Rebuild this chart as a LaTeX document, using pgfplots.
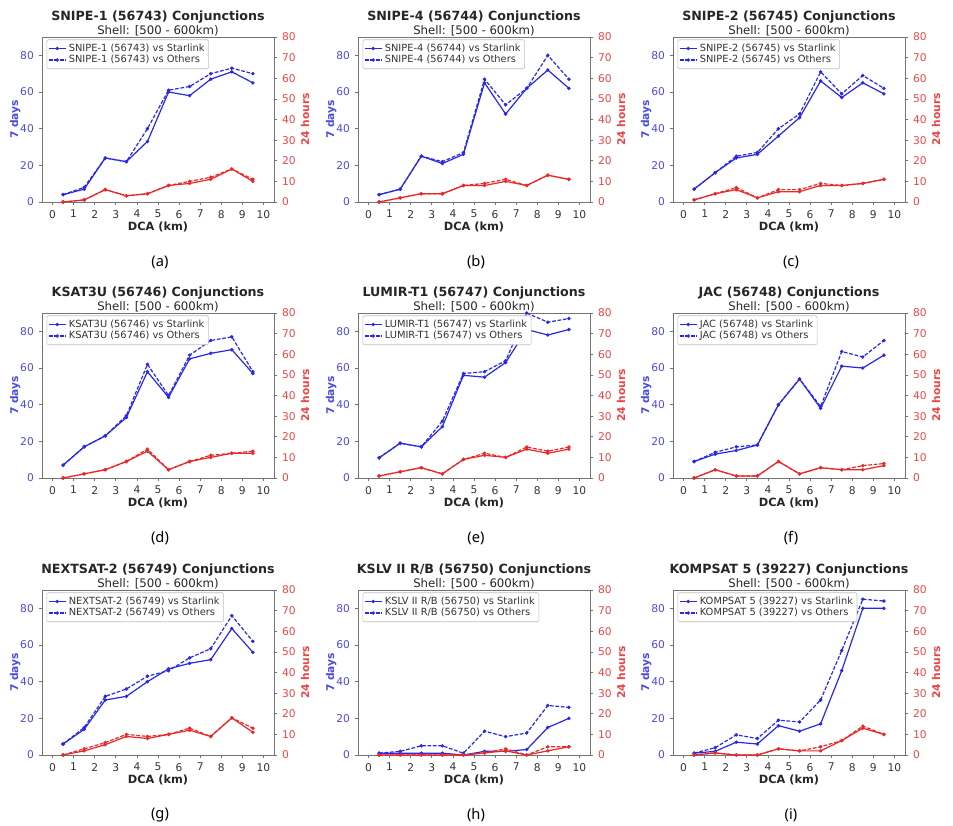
\documentclass[border=0pt]{standalone}
\usepackage{fontspec}
\setmainfont{DejaVu Sans}
\newfontfamily\lblfont{Noto Sans}
\usepackage{pgfplots}
\pgfplotsset{compat=1.18}
\usepackage{pgfplotstable}

\definecolor{lblue}{RGB}{40,40,230}
\definecolor{lred}{RGB}{235,40,40}
\definecolor{tblue}{RGB}{75,75,225}
\definecolor{tred}{RGB}{235,70,70}

\pgfplotstableread{
x s7 o7 s24 o24
0.5 4 4 0 0
1.5 7 8 1 1
2.5 24 24 6 6
3.5 22 22 3 3
4.5 33 40 4 4
5.5 60 61 8 8
6.5 58 63 9 10
7.5 67 70 11 12
8.5 71 73 16 16
9.5 65 70 10 11
}\tA
\pgfplotstableread{
x s7 o7 s24 o24
0.5 4 4 0 0
1.5 7 7 2 2
2.5 25 25 4 4
3.5 21 22 4 4
4.5 26 27 8 8
5.5 65 67 8 9
6.5 48 53 10 11
7.5 62 62 8 8
8.5 72 80 13 13
9.5 62 67 11 11
}\tB
\pgfplotstableread{
x s7 o7 s24 o24
0.5 7 7 1 1
1.5 16 16 4 4
2.5 24 25 6 7
3.5 26 27 2 2
4.5 36 40 5 6
5.5 46 48 5 6
6.5 66 71 8 9
7.5 57 59 8 8
8.5 65 69 9 9
9.5 59 62 11 11
}\tC
\pgfplotstableread{
x s7 o7 s24 o24
0.5 7 7 0 0
1.5 17 17 2 2
2.5 23 23 4 4
3.5 33 34 8 8
4.5 58 62 13 14
5.5 44 45 4 4
6.5 65 67 8 8
7.5 68 75 10 11
8.5 70 77 12 12
9.5 57 58 12 13
}\tD
\pgfplotstableread{
x s7 o7 s24 o24
0.5 11 11 1 1
1.5 19 19 3 3
2.5 17 17 5 5
3.5 28 31 2 2
4.5 56 57 9 9
5.5 55 58 11 12
6.5 63 64 10 10
7.5 81 90 14 15
8.5 78 85 12 13
9.5 81 87 14 15
}\tE
\pgfplotstableread{
x s7 o7 s24 o24
0.5 9 9 0 0
1.5 13 14 4 4
2.5 15 17 1 1
3.5 18 18 1 1
4.5 40 40 8 8
5.5 54 54 2 2
6.5 38 39 5 5
7.5 61 69 4 4
8.5 60 66 4 6
9.5 67 75 6 7
}\tF
\pgfplotstableread{
x s7 o7 s24 o24
0.5 6 6 0 0
1.5 14 15 2 3
2.5 30 32 5 6
3.5 32 36 9 10
4.5 40 43 8 9
5.5 47 46 10 10
6.5 50 53 12 13
7.5 52 58 9 9
8.5 69 76 18 18
9.5 56 62 11 13
}\tG
\pgfplotstableread{
x s7 o7 s24 o24
0.5 1 1 0 0
1.5 1 2 0 0
2.5 1 5 0 0
3.5 1 5 0 0
4.5 0 1 0 0
5.5 2 13 1 1
6.5 2 10 2 3
7.5 3 12 0 0
8.5 15 27 2 4
9.5 20 26 4 4
}\tH
\pgfplotstableread{
x s7 o7 s24 o24
0.5 1 1 0 0
1.5 2 4 1 1
2.5 7 11 0 0
3.5 6 9 0 0
4.5 16 19 3 3
5.5 13 18 2 2
6.5 17 30 2 4
7.5 46 57 7 7
8.5 80 85 13 14
9.5 80 84 10 10
}\tI

\pgfplotsset{
  panelbase/.style={
    scale only axis, width=174pt, height=123.75pt,
    anchor=north west,
    xmin=-0.5, xmax=10.5, xtick={0,...,10},
    axis line style={black!55},
    tick align=outside, major tick length=2.6pt,
    tick style={black!55, line width=0.5pt},
    /pgf/number format/assume math mode=true,
    tick label style={font=\fontsize{8}{9}\selectfont},
  },
  leftaxis/.style={
    panelbase,
    ymin=0, ymax=90, ytick={0,20,...,80},
    ytick pos=left, xtick pos=bottom,
    yticklabel style={text=tblue},
    xticklabel style={text=black!80},
    ylabel={7 days},
    ylabel style={font=\bfseries\fontsize{8}{9}\selectfont, text=tblue, yshift=-7pt},
    xlabel={DCA (km)},
    xlabel style={font=\bfseries\fontsize{8.5}{9}\selectfont, text=black!85, yshift=4pt},
    title style={font=\fontsize{8.8}{10.5}\selectfont, align=center, text=black!85, yshift=-8.5pt},
    legend style={at={(0.02,0.985)}, anchor=north west,
      font=\fontsize{7.4}{8}\selectfont, draw=black!25, rounded corners=1pt,
      fill=white, inner sep=1pt, row sep=-2.5pt, text=black!80},
    legend cell align=left,
    legend image code/.code={\draw[mark repeat=2,mark phase=2,##1] plot coordinates {(0cm,0cm) (0.22cm,0cm) (0.44cm,0cm)};},
  },
  rightaxis/.style={
    panelbase,
    ymin=0, ymax=80, ytick={0,10,...,80},
    axis x line=none, axis y line*=right,
    yticklabel style={text=tred},
    ylabel={24 hours},
    ylabel style={font=\bfseries\fontsize{8}{9}\selectfont, text=tred, yshift=3pt},
  },
  bl/.style={color=lblue, line width=0.9pt, mark=*, mark size=0.8pt, mark options={solid}},
  rl/.style={color=lred, line width=0.9pt, mark=*, mark size=0.8pt, mark options={solid}},
  dsh/.style={dash pattern=on 2.8pt off 1.3pt},
}

\newcommand{\panel}[5]{%
  \begin{axis}[leftaxis, at={({#1*0.75pt},{-#2*0.75pt})},
      title={{\bfseries\fontsize{9.5}{10.5}\selectfont #3 Conjunctions}\\Shell: [500 - 600km)}]
    \addplot[bl] table[x=x,y=s7]{#4}; \addlegendentry{#3 vs Starlink}
    \addplot[bl,dsh] table[x=x,y=o7]{#4}; \addlegendentry{#3 vs Others}
  \end{axis}
  \begin{axis}[rightaxis, at={({#1*0.75pt},{-#2*0.75pt})}]
    \addplot[rl] table[x=x,y=s24]{#4};
    \addplot[rl,dsh] table[x=x,y=o24]{#4};
  \end{axis}
  \node[font=\lblfont\fontsize{11}{12}\selectfont] at ({(#1+118)*0.75pt},{-(#2+225)*0.75pt}) {#5};
}

\begin{document}
\begin{tikzpicture}
\useasboundingbox (0,0) rectangle (714.75pt,-618.75pt);
\panel{42}{37}{SNIPE-1 (56743)}{\tA}{(a)}
\panel{358}{37}{SNIPE-4 (56744)}{\tB}{(b)}
\panel{673}{37}{SNIPE-2 (56745)}{\tC}{(c)}
\panel{42}{313}{KSAT3U (56746)}{\tD}{(d)}
\panel{358}{313}{LUMIR-T1 (56747)}{\tE}{(e)}
\panel{673}{313}{JAC (56748)}{\tF}{(f)}
\panel{42}{590}{NEXTSAT-2 (56749)}{\tG}{(g)}
\panel{358}{590}{KSLV II R/B (56750)}{\tH}{(h)}
\panel{673}{590}{KOMPSAT 5 (39227)}{\tI}{(i)}
\end{tikzpicture}
\end{document}
